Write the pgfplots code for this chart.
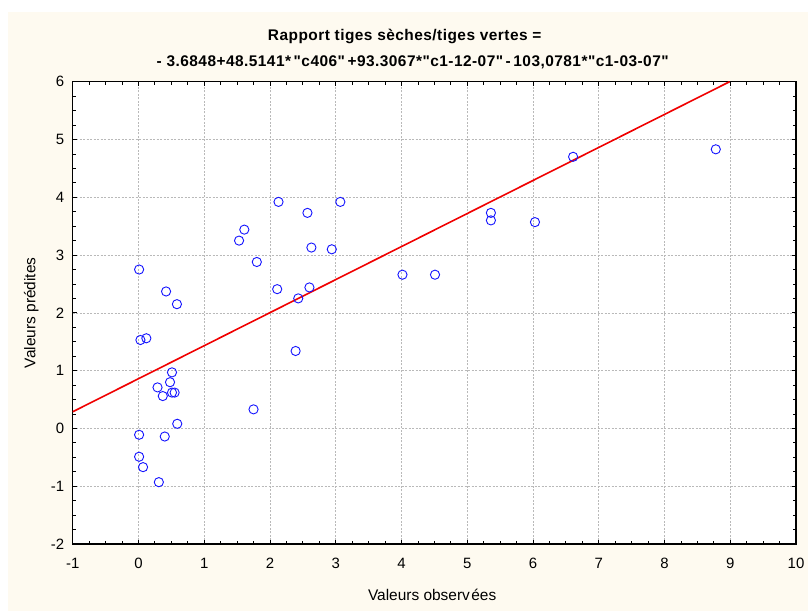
\documentclass[border=0pt]{standalone}
\usepackage{pgfplots}
\pgfplotsset{compat=1.18}
\usepackage{fontspec}
\setmainfont{Liberation Sans}
\newfontfamily\titlefont[LetterSpace=3]{Liberation Sans}
\newcommand\dq{\char34\relax}
\definecolor{cream}{RGB}{254,250,240}
\definecolor{plotblue}{RGB}{20,20,255}
\definecolor{fitred}{RGB}{240,0,0}

% observed vs. predicted values
\pgfplotstableread{
obs pred
0.01 2.75
0.42 2.37
0.585 2.15
0.03 1.53
0.12 1.56
1.53 3.25
1.61 3.44
1.80 2.88
2.13 3.92
2.57 3.73
2.63 3.13
2.94 3.10
3.07 3.92
2.11 2.41
2.60 2.44
2.43 2.25
2.39 1.34
0.51 0.97
0.48 0.80
0.29 0.71
0.37 0.56
0.51 0.62
0.55 0.62
1.75 0.33
0.59 0.08
0.01 -0.11
0.40 -0.14
0.01 -0.49
0.07 -0.67
0.31 -0.93
4.015 2.66
4.51 2.66
5.36 3.73
5.36 3.60
6.03 3.57
6.61 4.70
8.78 4.83
}\datatable

\begin{document}
\begin{tikzpicture}[x=1bp,y=1bp]
\path[use as bounding box] (-72.7,-67) rectangle (735.3,544);
\fill[cream] (-64.7,-67) rectangle (735.3,532);
\begin{axis}[
  at={(0,0)}, anchor=south west,
  scale only axis, width=723.3bp, height=462.3bp,
  xmin=-1, xmax=10, ymin=-2, ymax=6,
  xtick={-1,0,...,10}, ytick={-2,-1,...,6},
  minor x tick num=3, minor y tick num=3,
  tick align=inside,
  major tick length=4bp, minor tick length=3bp,
  tick style={black, line width=0.8bp},
  axis line style={black, line width=1.3bp},
  axis background/.style={fill=white},
  grid=major,
  major grid style={gray!55, line width=0.5bp, dash pattern=on 2bp off 1.5bp},
  ticklabel style={font=\fontsize{15}{17}\selectfont},
  /pgf/number format/assume math mode=true,
  xticklabel style={anchor=center, yshift=-19bp},
  yticklabel style={anchor=east, xshift=-5bp},
  xlabel={Valeurs observ\hspace{1.5bp}ées},
  ylabel={Valeurs prédites},
  label style={font=\fontsize{15.5}{17}\selectfont},
  xlabel style={at={(axis description cs:0.497,0)}, anchor=center, yshift=-51bp},
  ylabel style={at={(axis description cs:-0.0572,0.5)}, anchor=center},
]
\addplot[fitred, line width=1.6bp] coordinates {(-1,0.288) (8.99,6.0)};
\addplot[only marks, mark=o, mark size=4.6bp, mark options={plotblue, line width=0.9bp}]
  table[x=obs, y=pred] {\datatable};
\end{axis}
\node[font=\titlefont\bfseries\fontsize{15.5}{17}\selectfont] at (332,508) {Rapport tiges sèches/tiges vertes =};
\node[font=\titlefont\bfseries\fontsize{15.5}{17}\selectfont] at (340,482) {- 3.6848+48.5141*\,\dq c406\dq\,+93.3067*\dq c1-12-07\dq\,-\,103,0781*\dq c1-03-07\dq};
\end{tikzpicture}
\end{document}
